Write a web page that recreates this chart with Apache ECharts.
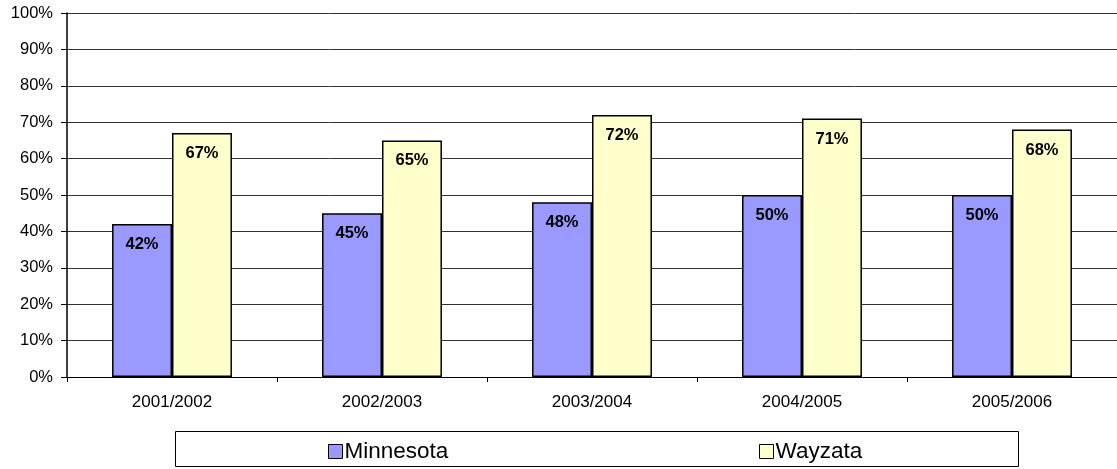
<!DOCTYPE html>
<html><head><meta charset="utf-8">
<script src="https://cdn.jsdelivr.net/npm/echarts@6/dist/echarts.min.js"></script>
<style>html,body{margin:0;padding:0;background:#fff}#c{width:1117px;height:469px}</style>
</head><body><div id="c"></div>
<script>
const categories = ['2001/2002','2002/2003','2003/2004','2004/2005','2005/2006'];
const minnesota = [42,45,48,50,50];
const wayzata = [67,65,72,71,68];
const seriesNames = ['Minnesota','Wayzata'];
const chart = echarts.init(document.getElementById('c'));
const F = 'Liberation Sans, Arial, Helvetica, sans-serif';
const lbl = {show:true, position:'insideTop', distance:12, formatter:'{c}%', fontFamily:F, fontSize:16.5, fontWeight:'bold', color:'#000'};
chart.setOption({
  animation:false,
  grid:{left:67,right:0,top:13,bottom:92},
  graphic:[{type:'rect',shape:{x:175.5,y:431.5,width:843,height:35},style:{fill:'#fff',stroke:'#000',lineWidth:1},z:0}],
  legend:[
    {data:[seriesNames[0]],left:328,top:440,padding:0,icon:'rect',itemWidth:14,itemHeight:14,itemGap:0,
     textStyle:{fontFamily:F,fontSize:22.5,color:'#000',padding:[0,0,0,-3]},itemStyle:{borderColor:'#000',borderWidth:1},z:5},
    {data:[seriesNames[1]],left:759,top:440,padding:0,icon:'rect',itemWidth:14,itemHeight:14,itemGap:0,
     textStyle:{fontFamily:F,fontSize:22.5,color:'#000',padding:[0,0,0,-3]},itemStyle:{borderColor:'#000',borderWidth:1},z:5}
  ],
  xAxis:{type:'category',data:categories,
    axisLine:{lineStyle:{color:'#000',width:1}},
    axisTick:{show:true,length:5,lineStyle:{color:'#000'}},
    axisLabel:{fontFamily:F,fontSize:17,color:'#000',margin:17}},
  yAxis:{type:'value',min:0,max:100,interval:10,
    axisLine:{show:true,lineStyle:{color:'#000',width:1.5}},
    axisTick:{show:true,length:6,lineStyle:{color:'#000'}},
    axisLabel:{formatter:'{value}%',fontFamily:F,fontSize:16.5,color:'#000',margin:14},
    splitLine:{lineStyle:{color:'#333',width:1}}},
  series:[
    {name:seriesNames[0],type:'bar',data:minnesota,barGap:'0%',barCategoryGap:'42.9%',
     itemStyle:{color:'#9999FF',borderColor:'#000',borderWidth:1.5},label:lbl},
    {name:seriesNames[1],type:'bar',data:wayzata,barGap:'0%',barCategoryGap:'42.9%',
     itemStyle:{color:'#FFFFCC',borderColor:'#000',borderWidth:1.5},label:lbl}
  ]
});
</script></body></html>
